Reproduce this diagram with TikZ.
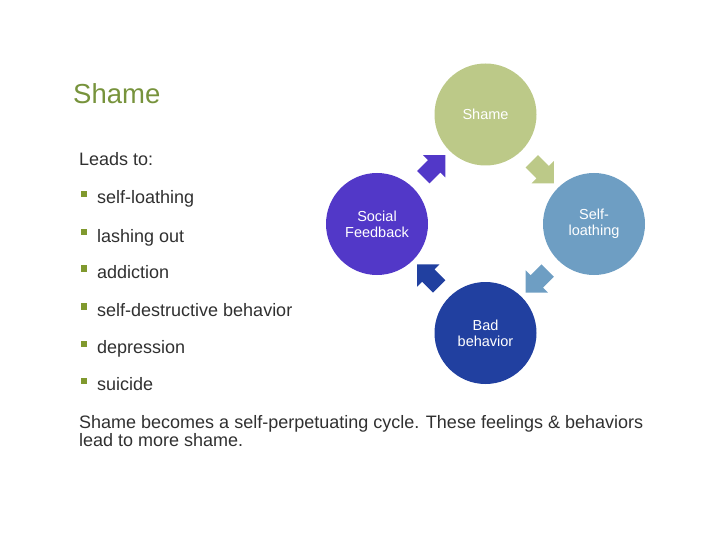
\documentclass[tikz,border=0pt]{standalone}
\usepackage{fontspec}
\setmainfont{Liberation Sans}
\usetikzlibrary{shapes.arrows,calc}

\definecolor{titlegreen}{RGB}{119,147,60}
\definecolor{bulletgreen}{RGB}{128,153,46}
\definecolor{textgray}{RGB}{48,48,48}
\definecolor{shamegreen}{RGB}{188,201,136}
\definecolor{loathblue}{RGB}{110,158,195}
\definecolor{badblue}{RGB}{33,64,160}
\definecolor{socialpurple}{RGB}{82,56,200}

\tikzset{
  slidetext/.style={anchor=base west, inner sep=0pt, text=textgray,
    font=\fontsize{18pt}{18pt}\selectfont},
  stagecircle/.style={circle, minimum size=102pt, inner sep=0pt, text=white,
    align=center, font=\fontsize{14.5pt}{16pt}\selectfont},
  cyclearrow/.style={single arrow, minimum height=31pt, inner sep=8.5pt,
    single arrow head extend=7pt},
}
\newcommand{\sqbullet}{\textcolor{bulletgreen}{\rule[6.5pt]{6pt}{6pt}}\hspace{10pt}}

\begin{document}
\begin{tikzpicture}[x=1pt,y=-1pt]
  \useasboundingbox (0,0) rectangle (720,540);
  % title and list
  \node[slidetext, text=titlegreen, font=\fontsize{27.5pt}{33pt}\selectfont] (title) at (73,104) {Shame};
  \node[slidetext] (leads) at (79,166) {Leads to:};
  \node[slidetext] (item1) at (81,204) {\sqbullet self-loathing};
  \node[slidetext] (item2) at (81,242) {\sqbullet lashing out};
  \node[slidetext] (item3) at (81,278) {\sqbullet addiction};
  \node[slidetext] (item4) at (81,316) {\sqbullet self-destructive behavior};
  \node[slidetext] (item5) at (81,353) {\sqbullet depression};
  \node[slidetext] (item6) at (81,390) {\sqbullet suicide};
  \node[slidetext, align=left] (summary) at (79,446)
    {Shame becomes a self-perpetuating cycle. These feelings \& behaviors\\lead to more shame.};
  % the cycle
  \draw
    (485.5,114.5) node[stagecircle, fill=shamegreen] (shame){Shame}
    (594,224) node[stagecircle, fill=loathblue] (loathing){Self-\\loathing}
    (485.5,333) node[stagecircle, fill=badblue] (bad){Bad\\behavior}
    (377,224) node[stagecircle, fill=socialpurple] (social){Social\\Feedback};
  \begin{scope}[every node/.style=cyclearrow]
    \node[fill=shamegreen, rotate=-45] (arrow1) at ($(shame)!0.5!(loathing)$) {};
    \node[fill=loathblue, rotate=-135] (arrow2) at ($(loathing)!0.5!(bad)$) {};
    \node[fill=badblue, rotate=135] (arrow3) at ($(bad)!0.5!(social)$) {};
    \node[fill=socialpurple, rotate=45] (arrow4) at ($(social)!0.5!(shame)$) {};
  \end{scope}
\end{tikzpicture}
\end{document}
